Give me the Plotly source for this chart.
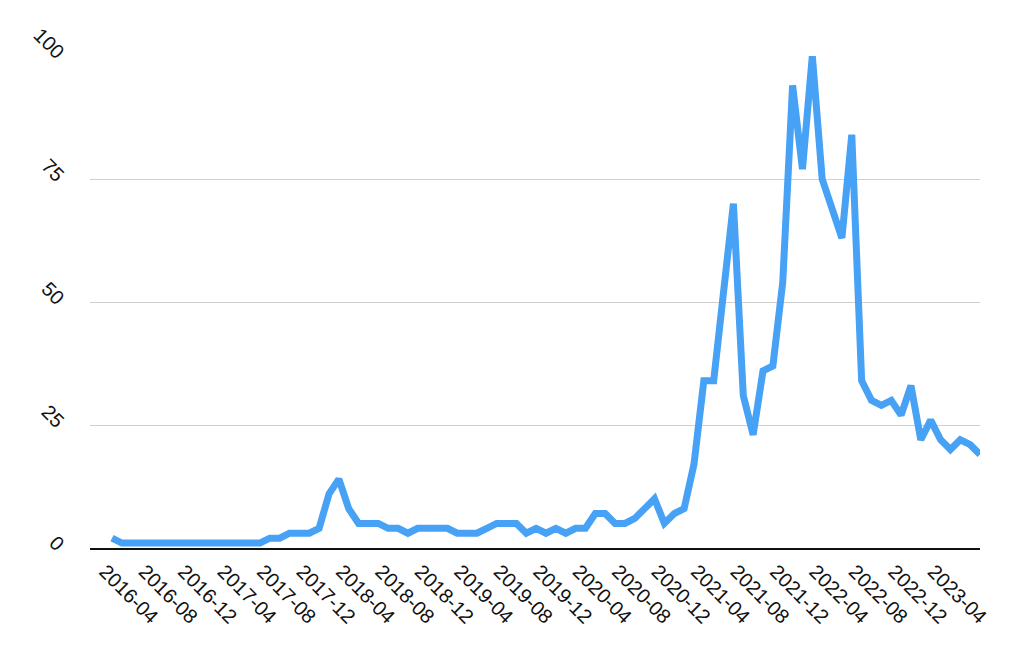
import plotly.graph_objects as go

# monthly index values, 2016-04 .. 2023-08
months = []
for k in range(89):
    y = 2016 + (3 + k) // 12
    m = (3 + k) % 12 + 1
    months.append(f"{y}-{m:02d}")

values = [2, 1, 1, 1, 1, 1, 1, 1, 1, 1,
          1, 1, 1, 1, 1, 1, 2, 2, 3, 3,
          3, 4, 11, 14, 8, 5, 5, 5, 4, 4,
          3, 4, 4, 4, 4, 3, 3, 3, 4, 5,
          5, 5, 3, 4, 3, 4, 3, 4, 4, 7,
          7, 5, 5, 6, 8, 10, 5, 7, 8, 17,
          34, 34, 52, 70, 31, 23, 36, 37, 54, 94,
          77, 100, 75, 69, 63, 84, 34, 30, 29, 30,
          27, 33, 22, 26, 22, 20, 22, 21, 19]

tick_labels = months[:85:4]          # 2016-04 .. 2023-04
y_ticks = [0, 25, 50, 75, 100]

fig = go.Figure()
fig.add_trace(go.Scatter(
    x=months,
    y=values,
    mode="lines",
    line=dict(color="#47a1f5", width=7),
    showlegend=False
))

# page body adds ~8px offset, margins compensate for it
fig.update_layout(
    width=1024,
    height=656,
    margin=dict(l=82, r=52, t=48, b=116),
    paper_bgcolor="white",
    plot_bgcolor="white",
    font=dict(family="Liberation Sans, Arial, sans-serif", size=20, color="#111")
)

fig.update_xaxes(
    type="category",
    range=[-2.23, 88],
    tickvals=tick_labels,
    ticktext=tick_labels,
    tickangle=45,
    showgrid=False,
    showline=True,
    linecolor="#111",
    linewidth=2,
    ticks="",
    automargin=False,
    ticklabelstandoff=2,
    ticklabelshift=-7
)

fig.update_yaxes(
    range=[0, 100],
    tickvals=y_ticks,
    tickangle=45,
    showgrid=True,
    gridcolor="#cfcfcf",
    gridwidth=1,
    zeroline=False,
    showline=False,
    ticks="",
    automargin=False,
    ticklabelstandoff=26
)

fig.write_html("out.html")
